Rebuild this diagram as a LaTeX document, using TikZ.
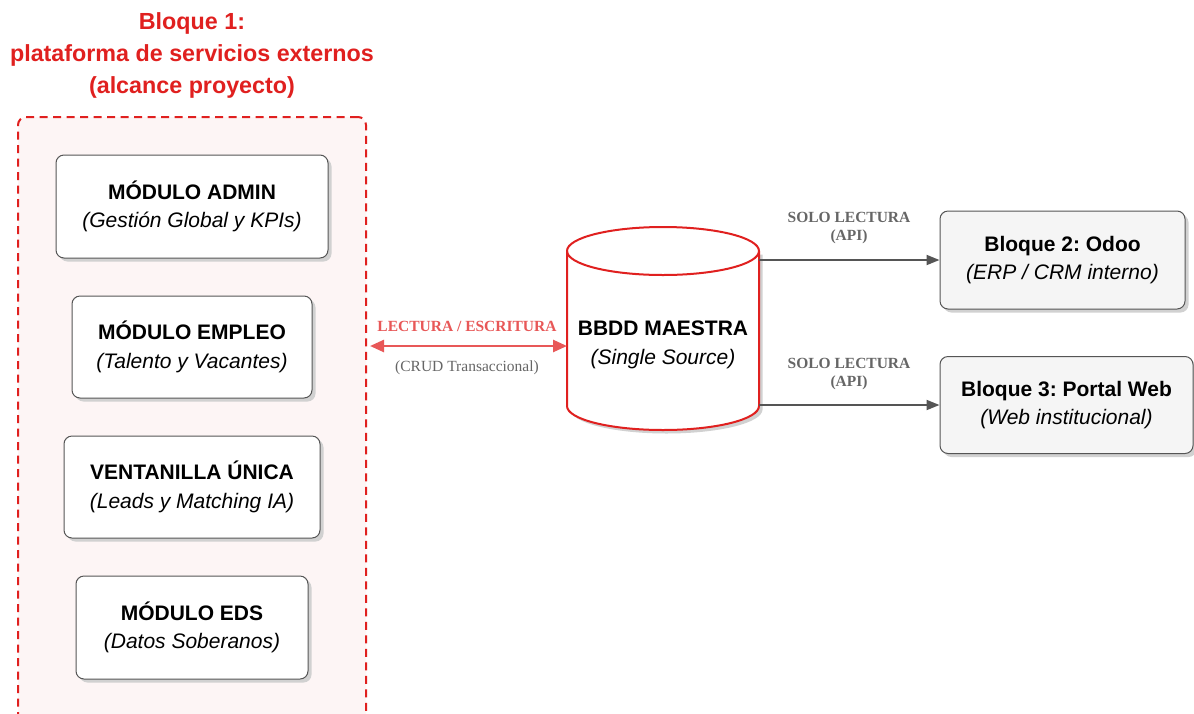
\documentclass[tikz,border=0pt]{standalone}
\usepackage{fontspec}
\setmainfont{Liberation Sans}
\newfontfamily\lblfont{Liberation Serif}
\usetikzlibrary{arrows.meta,shadows}
\definecolor{tred}{HTML}{E0201F}
\definecolor{ared}{HTML}{E85858}
\definecolor{cfill}{HTML}{FDF5F5}
\definecolor{bordg}{HTML}{555555}
\definecolor{greyfill}{HTML}{F5F5F5}
\definecolor{lblgrey}{HTML}{666666}
\frenchspacing
\begin{document}
\begin{tikzpicture}[x=1pt,y=-1pt,
  modbox/.style={draw=bordg, line width=1pt, rounded corners=8pt, fill=white,
    drop shadow={shadow xshift=3.5pt, shadow yshift=-3.5pt, fill=black!18, opacity=1},
    align=center, inner sep=0pt, font=\fontsize{21}{28.5}\selectfont},
  extbox/.style={modbox, fill=greyfill},
  titletxt/.style={font=\fontsize{23.3}{32}\selectfont\bfseries, text=tred, align=center},
  lblb/.style={font=\lblfont\fontsize{15.5}{18}\selectfont\bfseries, text=lblgrey, align=center, inner sep=0pt},
  garrow/.style={draw=bordg, line width=2pt, -{Triangle[length=13pt,width=10pt]}},
  rarrow/.style={draw=ared, line width=2.5pt, {Triangle[length=14pt,width=12pt]}-{Triangle[length=14pt,width=12pt]}}
]
\useasboundingbox (0,0) rectangle (1194,713);
\clip (0,0) rectangle (1194,713);
\fill[white] (0,0) rectangle (1194,713);

% title
\node[titletxt] (title) at (192,55) {Bloque 1:\\plataforma de servicios externos\\(alcance proyecto)};

% container
\node[draw=tred, fill=cfill, line width=2pt, dash pattern=on 8pt off 5.5pt, rounded corners=8pt,
      minimum width=348pt, minimum height=640pt, inner sep=0pt] (bloque1) at (192,437) {};

% modules
\node[modbox, minimum width=272pt, minimum height=103pt] (admin) at (192,206.5)
  {\bfseries MÓDULO ADMIN\\\itshape (Gestión Global y KPIs)};
\node[modbox, minimum width=240pt, minimum height=102pt] (empleo) at (192,347)
  {\bfseries MÓDULO EMPLEO\\\itshape (Talento y Vacantes)};
\node[modbox, minimum width=256pt, minimum height=102pt] (ventanilla) at (192,487)
  {\bfseries VENTANILLA ÚNICA\\\itshape (Leads y Matching IA)};
\node[modbox, minimum width=232pt, minimum height=103pt] (eds) at (192,627.5)
  {\bfseries MÓDULO EDS\\\itshape (Datos Soberanos)};

% cylinder
\path[fill=black!18] (570.5,254.5) -- (570.5,409.5)
   .. controls (570.5,422.75) and (613.5,433.5) .. (666.5,433.5)
   .. controls (719.5,433.5) and (762.5,422.75) .. (762.5,409.5)
   -- (762.5,254.5) -- cycle;
\path[draw=tred, fill=white, line width=2pt] (567,251) -- (567,406)
   .. controls (567,419.25) and (610,430) .. (663,430)
   .. controls (716,430) and (759,419.25) .. (759,406)
   -- (759,251)
   .. controls (759,237.75) and (716,227) .. (663,227)
   .. controls (610,227) and (567,237.75) .. (567,251) -- cycle;
\draw[tred, line width=2pt] (567,251)
   .. controls (567,264.25) and (610,275) .. (663,275)
   .. controls (716,275) and (759,264.25) .. (759,251);
\node[align=center, inner sep=0pt, font=\fontsize{21}{28.5}\selectfont] (db) at (663,345)
  {\bfseries BBDD MAESTRA\\\itshape (Single Source)};
\coordinate (dbW) at (567,346);
\coordinate (dbE1) at (759,260);
\coordinate (dbE2) at (759,405);

% external blocks
\node[extbox, minimum width=245pt, minimum height=98pt] (odoo) at (1062.5,260)
  {\bfseries Bloque 2: Odoo\\\itshape (ERP / CRM interno)};
\node[extbox, minimum width=253pt, minimum height=97pt] (portal) at (1066.5,405)
  {\bfseries Bloque 3: Portal Web\\\itshape (Web institucional)};

% connectors
\draw[rarrow] (dbW -| bloque1.east) ++(3,0) coordinate (rl) (rl) -- (dbW);
\node[lblb, text=ared] (lrw) at (467,326) {LECTURA / ESCRITURA};
\node[lblb, font=\lblfont\fontsize{15.5}{18}\selectfont] (crud) at (467,368) {(CRUD Transaccional)};

\draw[garrow] (dbE1) -- (dbE1 -| odoo.west);
\draw[garrow] (dbE2) -- (dbE2 -| portal.west);
\node[lblb] (l1) at (849,228) {SOLO LECTURA\\(API)};
\node[lblb] (l2) at (849,374) {SOLO LECTURA\\(API)};
\end{tikzpicture}
\end{document}
